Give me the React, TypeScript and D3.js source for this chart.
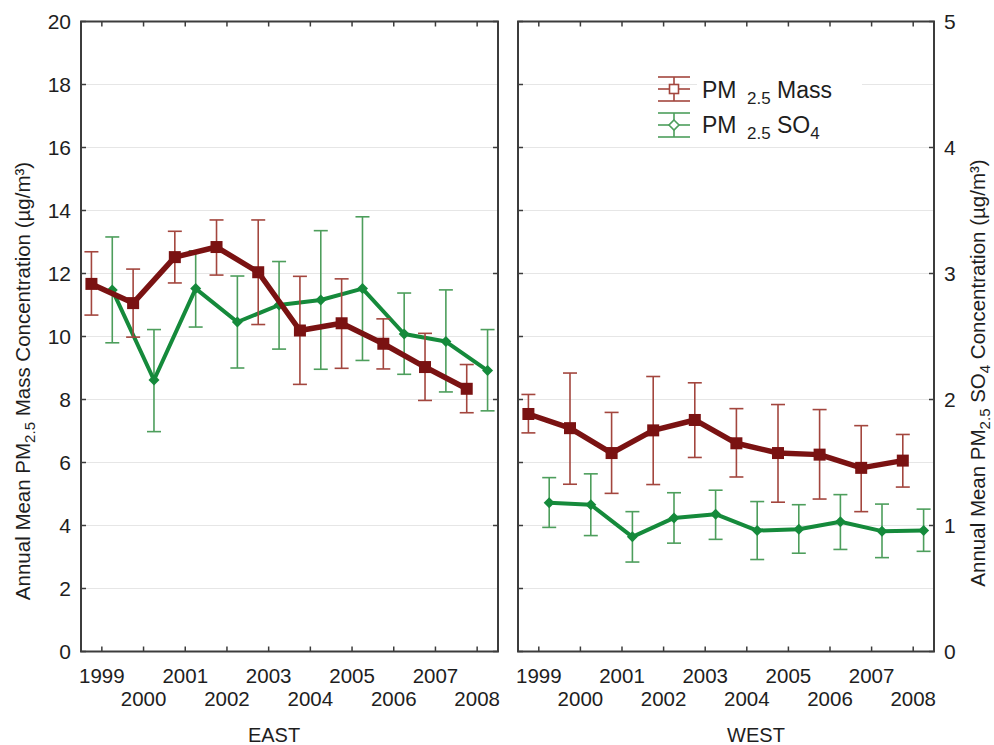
import React from "react";
import * as d3 from "d3";

const years = ["1999", "2000", "2001", "2002", "2003", "2004", "2005", "2006", "2007", "2008"];

// EAST — PM2.5 mass (left axis, µg/m³)
const eastMass = [11.67, 11.06, 12.52, 12.84, 12.04, 10.19, 10.42, 9.77, 9.03, 8.34];
const eastMassLo = [10.68, 9.98, 11.7, 11.95, 10.38, 8.48, 8.99, 8.97, 7.97, 7.58];
const eastMassHi = [12.69, 12.14, 13.34, 13.7, 13.7, 11.91, 11.83, 10.56, 10.1, 9.11];
// EAST — PM2.5 SO4 (right axis, µg/m³)
const eastSO4 = [2.87, 2.155, 2.88, 2.615, 2.75, 2.79, 2.88, 2.52, 2.46, 2.23];
const eastSO4Lo = [2.45, 1.745, 2.575, 2.25, 2.4, 2.24, 2.31, 2.2, 2.06, 1.91];
const eastSO4Hi = [3.29, 2.555, 3.18, 2.98, 3.095, 3.34, 3.45, 2.845, 2.87, 2.555];
// WEST — PM2.5 mass
const westMass = [7.54, 7.09, 6.3, 7.02, 7.35, 6.61, 6.3, 6.25, 5.83, 6.06];
const westMassLo = [6.94, 5.31, 5.02, 5.3, 6.16, 5.54, 4.74, 4.84, 4.44, 5.22];
const westMassHi = [8.16, 8.84, 7.59, 8.73, 8.53, 7.71, 7.84, 7.68, 7.17, 6.89];
// WEST — PM2.5 SO4
const westSO4 = [1.18, 1.165, 0.91, 1.06, 1.09, 0.96, 0.97, 1.03, 0.955, 0.96];
const westSO4Lo = [0.985, 0.92, 0.71, 0.86, 0.89, 0.73, 0.78, 0.81, 0.745, 0.795];
const westSO4Hi = [1.38, 1.41, 1.11, 1.26, 1.28, 1.19, 1.165, 1.245, 1.17, 1.13];

const leftTicks = [0, 2, 4, 6, 8, 10, 12, 14, 16, 18, 20];
const rightTicks = [0, 1, 2, 3, 4, 5];
const panelNames = ["EAST", "WEST"];

const FONT = "'Liberation Sans', Arial, Helvetica, sans-serif";
const MASS_LINE = "#7a1212";
const MASS_ERR = "#a3463e";
const SO4_LINE = "#158a3b";
const SO4_ERR = "#4d9e5c";
const FRAME = "#3c3c3c";
const GRID = "#e6e6e6";
const TEXT = "#1e1e1e";

const TOP = 21.5;
const BOTTOM = 651.5;
const yL = d3.scaleLinear().domain([0, 20]).range([BOTTOM, TOP]);
const yR = d3.scaleLinear().domain([0, 5]).range([BOTTOM, TOP]);

type PanelProps = {
  x0: number;
  x1: number;
  name: string;
  nameX: number;
  mass: number[];
  massLo: number[];
  massHi: number[];
  so4: number[];
  so4Lo: number[];
  so4Hi: number[];
  rightLabels: boolean;
};

function Panel(p: PanelProps) {
  const x = d3.scaleBand<string>().domain(years).range([p.x0, p.x1]);
  const bw = x.bandwidth();
  const cx = (y: string) => (x(y) as number) + bw / 2;
  const off = bw * 0.25;
  const capW = 7;
  const tickLen = 5;

  const massPts = years.map((yr, i) => [cx(yr) - off, yL(p.mass[i])] as [number, number]);
  const so4Pts = years.map((yr, i) => [cx(yr) + off, yR(p.so4[i])] as [number, number]);
  const line = d3.line();

  return (
    <g>
      {leftTicks.slice(1, -1).map((t) => (
        <line key={"g" + t} x1={p.x0} x2={p.x1} y1={yL(t)} y2={yL(t)} stroke={GRID} strokeWidth={1} />
      ))}
      {/* SO4 */}
      <g>
        {years.map((yr, i) => {
          const xx = cx(yr) + off;
          return (
            <g key={"se" + yr} stroke={SO4_ERR} strokeWidth={1.6} fill="none">
              <line x1={xx} x2={xx} y1={yR(p.so4Lo[i])} y2={yR(p.so4Hi[i])} />
              <line x1={xx - capW} x2={xx + capW} y1={yR(p.so4Lo[i])} y2={yR(p.so4Lo[i])} />
              <line x1={xx - capW} x2={xx + capW} y1={yR(p.so4Hi[i])} y2={yR(p.so4Hi[i])} />
            </g>
          );
        })}
        <path d={line(so4Pts) as string} fill="none" stroke={SO4_LINE} strokeWidth={4} strokeLinejoin="round" />
        {so4Pts.map(([px, py], i) => (
          <path key={"sm" + i} d={`M${px},${py - 5.5}L${px + 5.5},${py}L${px},${py + 5.5}L${px - 5.5},${py}Z`} fill={SO4_LINE} />
        ))}
      </g>
      {/* Mass */}
      <g>
        {years.map((yr, i) => {
          const xx = cx(yr) - off;
          return (
            <g key={"me" + yr} stroke={MASS_ERR} strokeWidth={1.6} fill="none">
              <line x1={xx} x2={xx} y1={yL(p.massLo[i])} y2={yL(p.massHi[i])} />
              <line x1={xx - capW} x2={xx + capW} y1={yL(p.massLo[i])} y2={yL(p.massLo[i])} />
              <line x1={xx - capW} x2={xx + capW} y1={yL(p.massHi[i])} y2={yL(p.massHi[i])} />
            </g>
          );
        })}
        <path d={line(massPts) as string} fill="none" stroke={MASS_LINE} strokeWidth={5.5} strokeLinejoin="round" />
        {massPts.map(([px, py], i) => (
          <rect key={"mm" + i} x={px - 6} y={py - 6} width={12} height={12} fill={MASS_LINE} />
        ))}
      </g>
      <rect x={p.x0} y={TOP} width={p.x1 - p.x0} height={BOTTOM - TOP} fill="none" stroke={FRAME} strokeWidth={2} />
      {years.map((yr) => (
        <g key={"xt" + yr} stroke={FRAME} strokeWidth={1.5}>
          <line x1={cx(yr)} x2={cx(yr)} y1={BOTTOM} y2={BOTTOM - tickLen} />
          <line x1={cx(yr)} x2={cx(yr)} y1={TOP} y2={TOP + tickLen} />
        </g>
      ))}
      {leftTicks.map((t) => (
        <line key={"lt" + t} x1={p.x0} x2={p.x0 + tickLen} y1={yL(t)} y2={yL(t)} stroke={FRAME} strokeWidth={1.5} />
      ))}
      {rightTicks.map((t) => (
        <line key={"rt" + t} x1={p.x1} x2={p.x1 - tickLen} y1={yR(t)} y2={yR(t)} stroke={FRAME} strokeWidth={1.5} />
      ))}
      {years.map((yr, i) => (
        <text key={"yl" + yr} x={cx(yr)} y={i % 2 === 0 ? 683 : 706} textAnchor="middle" fontSize={20.5} fill={TEXT} fontFamily={FONT}>
          {yr}
        </text>
      ))}
      <text x={p.nameX} y={742} textAnchor="middle" fontSize={20} fill={TEXT} fontFamily={FONT}>
        {p.name}
      </text>
      {p.rightLabels &&
        rightTicks.map((t) => (
          <text key={"rl" + t} x={p.x1 + 10} y={yR(t)} dy="0.36em" fontSize={21} fill={TEXT} fontFamily={FONT}>
            {t}
          </text>
        ))}
    </g>
  );
}

export default function App() {
  return (
    <svg
      width={994}
      height={745}
      viewBox="0 0 994 745"
      style={{ position: "absolute", left: 0, top: 0, background: "#fff" }}
      fontFamily={FONT}
    >
      <rect x={0} y={0} width={994} height={745} fill="#fff" />
      {leftTicks.map((t) => (
        <text key={"ll" + t} x={71} y={yL(t)} dy="0.36em" textAnchor="end" fontSize={21} fill={TEXT}>
          {t}
        </text>
      ))}
      <Panel
        x0={81}
        x1={498}
        name={panelNames[0]}
        nameX={274}
        mass={eastMass}
        massLo={eastMassLo}
        massHi={eastMassHi}
        so4={eastSO4}
        so4Lo={eastSO4Lo}
        so4Hi={eastSO4Hi}
        rightLabels={false}
      />
      <Panel
        x0={518}
        x1={934}
        name={panelNames[1]}
        nameX={756}
        mass={westMass}
        massLo={westMassLo}
        massHi={westMassHi}
        so4={westSO4}
        so4Lo={westSO4Lo}
        so4Hi={westSO4Hi}
        rightLabels={true}
      />
      <text transform="translate(30,381) rotate(-90)" textAnchor="middle" fontSize={20.5} fill={TEXT}>
        Annual Mean PM<tspan fontSize={15} dy={5}>2.5</tspan>
        <tspan dy={-5}> Mass Concentration (µg/m³)</tspan>
      </text>
      <text transform="translate(985,373) rotate(-90)" textAnchor="middle" fontSize={20.5} fill={TEXT}>
        Annual Mean PM<tspan fontSize={15} dy={5}>2.5</tspan>
        <tspan dy={-5}> SO</tspan>
        <tspan fontSize={15} dy={5}>4</tspan>
        <tspan dy={-5}> Concentration (µg/m³)</tspan>
      </text>
      <g>
        <rect x={697} y={70} width={165} height={72} fill="#fff" />
        <g stroke={MASS_ERR} strokeWidth={1.6} fill="none">
          <line x1={658} x2={690} y1={77} y2={77} />
          <line x1={658} x2={690} y1={101} y2={101} />
          <line x1={658} x2={690} y1={89} y2={89} />
          <line x1={674} x2={674} y1={77} y2={101} />
          <rect x={669.5} y={84.5} width={9} height={9} fill="#fff" />
        </g>
        <g stroke={SO4_ERR} strokeWidth={1.6} fill="none">
          <line x1={658} x2={690} y1={113} y2={113} />
          <line x1={658} x2={690} y1={137} y2={137} />
          <line x1={658} x2={690} y1={125} y2={125} />
          <line x1={674} x2={674} y1={113} y2={137} />
          <path d="M674,120L679,125L674,130L669,125Z" fill="#fff" />
        </g>
        <text y={98} fontSize={23} fill={TEXT}>
          <tspan x={702}>PM</tspan>
          <tspan x={747} dy={6} fontSize={17}>2.5</tspan>
          <tspan x={777} dy={-6}>Mass</tspan>
        </text>
        <text y={133} fontSize={23} fill={TEXT}>
          <tspan x={702}>PM</tspan>
          <tspan x={747} dy={6} fontSize={17}>2.5</tspan>
          <tspan x={777} dy={-6}>SO</tspan>
          <tspan fontSize={17} dy={6}>4</tspan>
        </text>
      </g>
    </svg>
  );
}
